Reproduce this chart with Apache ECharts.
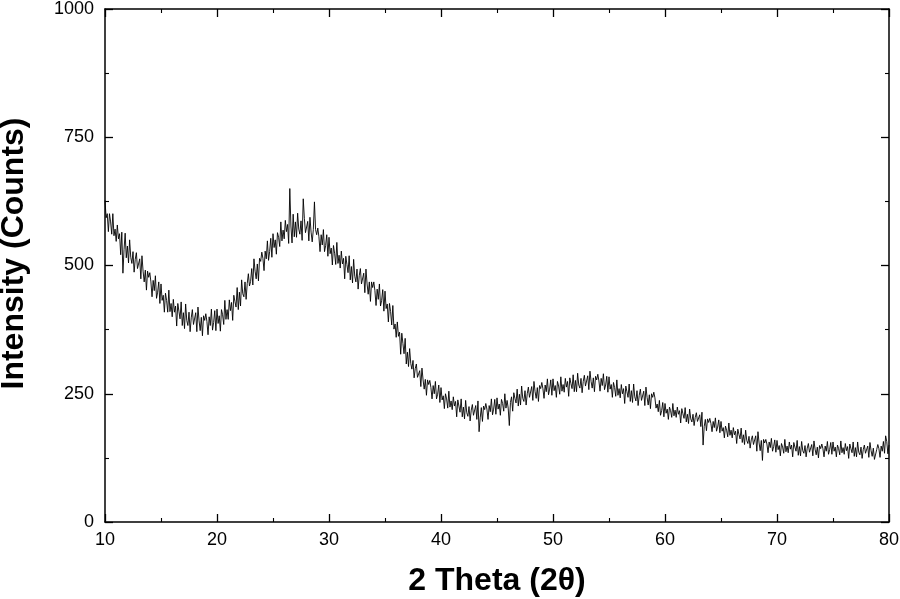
<!DOCTYPE html>
<html>
<head>
<meta charset="utf-8">
<script src="https://cdn.jsdelivr.net/npm/echarts@6.0.0/dist/echarts.min.js"></script>
<style>
html,body{margin:0;padding:0;background:#fff;}
#chart{width:900px;height:599px;}
</style>
</head>
<body>
<div id="chart"></div>
<script>
// 2 Theta grid: start and step (degrees)
const twoThetaStart = 10;
const twoThetaStep = 0.1;
// Intensity (counts), one row per degree (x.0 ... x.9)
const intensity = [
 627,593,601,566,601,585,561,601,558,571, // 10
 547,579,552,562,521,565,485,531,563,515, // 11
 538,505,550,516,504,527,487,512,525,494, // 12
 494,513,474,519,489,468,491,452,489,477, // 13
 486,468,439,471,451,480,436,448,468,426, // 14
 464,432,442,409,446,432,409,452,410,426, // 15
 400,434,409,421,382,426,411,396,429,383, // 16
 408,377,425,393,383,409,371,398,414,385, // 17
 386,408,371,419,392,373,399,363,402,393, // 18
 406,391,365,400,383,415,374,389,412,373, // 19
 415,387,402,372,414,404,385,432,395,414, // 20
 395,433,412,428,393,442,430,419,457,414, // 21
 448,421,472,445,439,468,434,465,484,460, // 22
 469,494,462,513,489,474,503,470,514,508, // 23
 526,514,490,528,513,548,510,527,553,516, // 24
 562,535,550,522,564,555,537,585,548,569, // 25
 552,588,566,580,543,650,577,544,600,556, // 26
 585,555,602,571,561,587,549,630,592,564, // 27
 566,586,548,594,565,546,570,624,570,560, // 28
 573,556,527,560,540,570,527,539,560,518, // 29
 555,523,534,501,539,524,502,545,504,520, // 30
 495,528,503,514,474,518,502,486,519,472, // 31
 498,466,512,479,468,493,454,480,494,464, // 32
 465,485,447,493,464,444,468,430,468,457, // 33
 468,451,422,454,434,464,421,432,453,411, // 34
 450,416,425,390,426,410,384,422,376,386, // 35
 360,390,362,370,327,368,348,328,358,308, // 36
 331,303,338,309,298,315,281,299,308,282, // 37
 279,295,264,300,277,259,278,247,277,268, // 38
 276,262,240,266,250,274,240,249,267,233, // 39
 262,238,246,221,250,240,222,255,224,236, // 40
 219,244,226,235,205,238,226,214,240,205, // 41
 224,201,237,213,206,225,197,218,229,208, // 42
 210,227,200,236,176,203,223,196,226,219, // 43
 231,220,200,227,215,240,209,220,239,210, // 44
 242,220,230,208,239,231,216,250,222,237, // 45
 222,188,233,244,216,252,241,232,259,226, // 46
 249,228,265,241,235,256,228,250,263,243, // 47
 246,264,237,274,254,241,262,235,266,260, // 48
 272,260,241,267,254,279,248,259,277,247, // 49
 279,256,266,243,274,265,249,283,255,268, // 50
 253,280,263,274,245,281,270,260,287,254, // 51
 276,254,290,267,261,280,252,274,286,265, // 52
 268,285,258,294,274,261,281,254,284,277, // 53
 288,275,255,280,266,289,258,267,284,253, // 54
 283,259,268,243,272,262,245,277,247,260, // 55
 242,268,250,260,231,265,254,243,269,235, // 56
 256,233,269,244,236,256,227,247,259,237, // 57
 238,255,227,263,243,228,248,221,250,243, // 58
 253,242,222,230,215,237,208,217,233,205, // 59
 231,212,220,200,224,217,204,231,207,218, // 60
 204,224,210,217,193,221,211,202,223,195, // 61
 210,192,220,201,195,210,188,204,213,196, // 62
 196,209,186,214,150,186,200,178,201,194, // 63
 202,192,176,196,184,203,177,185,199,174, // 64
 196,177,184,164,187,179,166,193,169,179, // 65
 164,184,170,177,153,181,171,162,183,155, // 66
 170,151,179,159,153,167,144,160,168,151, // 67
 150,168,138,176,154,139,159,120,161,154, // 68
 161,152,135,156,145,163,138,147,160,136, // 69
 159,141,149,129,153,146,134,161,137,148, // 70
 135,156,142,150,127,155,146,138,159,130, // 71
 147,129,157,139,134,149,127,144,153,136, // 72
 137,151,129,158,142,131,146,125,149,143, // 73
 152,143,127,148,138,157,132,141,155,132, // 74
 156,138,146,127,150,143,131,158,135,145, // 75
 132,153,139,147,124,152,143,135,156,128, // 76
 145,127,156,136,131,146,124,141,150,134, // 77
 134,148,126,155,139,128,144,122,120,141, // 78
 151,143,126,148,138,157,134,168,157,133, // 79
 150                                       // 80
];
const xTicks = [10, 20, 30, 40, 50, 60, 70, 80];
const yTicks = [0, 250, 500, 750, 1000];
const xTitle = '2 Theta (2θ)';
const yTitle = 'Intensity (Counts)';

const points = intensity.map((v, i) => [+(twoThetaStart + i * twoThetaStep).toFixed(2), v]);

const FONT = '"Liberation Sans", Arial, sans-serif';
const axisLine = { show: true, onZero: false, lineStyle: { color: '#000', width: 1.5 } };
const tick = { show: true, inside: true, length: 8, lineStyle: { color: '#000', width: 1.3 } };
const minor = { show: true, splitNumber: 2, length: 4, lineStyle: { color: '#000', width: 1.1 } };

function xAx(pos, labels) {
  return {
    type: 'value', position: pos,
    min: xTicks[0], max: xTicks[xTicks.length - 1], interval: xTicks[1] - xTicks[0],
    axisLine, axisTick: tick, minorTick: minor,
    splitLine: { show: false }, minorSplitLine: { show: false },
    axisLabel: { show: labels, fontSize: 18, color: '#000', fontFamily: FONT, margin: 9,
                 formatter: v => String(v) },
    name: labels ? xTitle : '', nameLocation: 'middle', nameGap: 43,
    nameTextStyle: { fontSize: 32, fontWeight: 'bold', color: '#000', fontFamily: FONT }
  };
}
function yAx(pos, labels) {
  return {
    type: 'value', position: pos,
    min: yTicks[0], max: yTicks[yTicks.length - 1], interval: yTicks[1] - yTicks[0],
    axisLine, axisTick: tick, minorTick: minor,
    splitLine: { show: false }, minorSplitLine: { show: false },
    axisLabel: { show: labels, fontSize: 18, color: '#000', fontFamily: FONT, margin: 11,
                 formatter: v => String(v) },
    name: labels ? yTitle : '', nameLocation: 'middle', nameGap: 75,
    nameTextStyle: { fontSize: 32, fontWeight: 'bold', color: '#000', fontFamily: FONT,
                     padding: [0, 0, 0, 24] }
  };
}

const chart = echarts.init(document.getElementById('chart'), null, { renderer: 'canvas' });
chart.setOption({
  animation: false,
  backgroundColor: '#fff',
  grid: { left: 105, right: 11, top: 9, bottom: 77, containLabel: false, outerBoundsMode: 'none' },
  xAxis: [xAx('bottom', true), xAx('top', false)],
  yAxis: [yAx('left', true), yAx('right', false)],
  series: [{
    type: 'line', xAxisIndex: 0, yAxisIndex: 0,
    data: points, showSymbol: false, symbol: 'none',
    sampling: false,
    lineStyle: { color: '#000', width: 0.9 },
    silent: true
  }]
});
</script>
</body>
</html>
